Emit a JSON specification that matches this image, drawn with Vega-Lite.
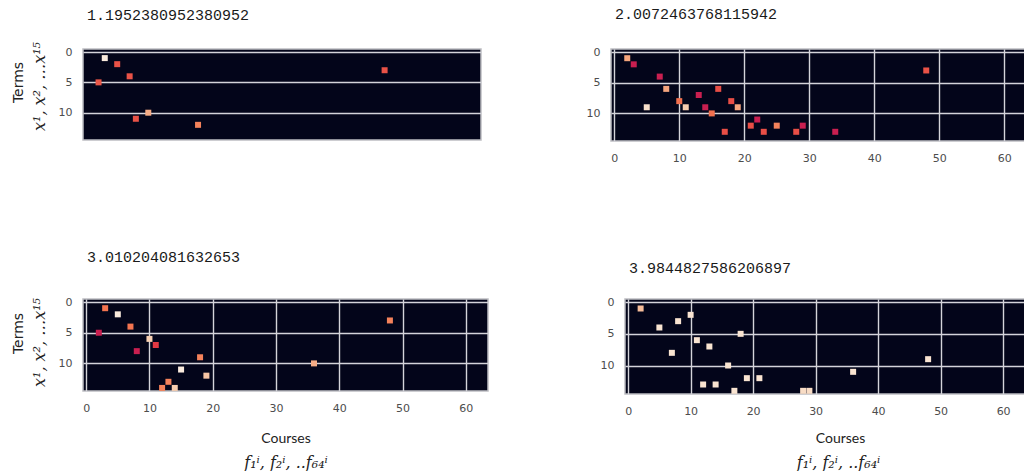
{
  "$schema": "https://vega.github.io/schema/vega-lite/v6.json",
  "padding": {"left": 10, "top": 6, "right": 0, "bottom": 0},
  "background": "white",
  "datasets": {
    "p1": [
      {"course": 3, "term": 1, "v": 1.0}, {"course": 5, "term": 2, "v": 0.63}, {"course": 7, "term": 4, "v": 0.63},
      {"course": 2, "term": 5, "v": 0.64}, {"course": 48, "term": 3, "v": 0.63}, {"course": 10, "term": 10, "v": 0.84},
      {"course": 8, "term": 11, "v": 0.63}, {"course": 18, "term": 12, "v": 0.74}
    ],
    "p2": [
      {"course": 2, "term": 1, "v": 0.82}, {"course": 3, "term": 2, "v": 0.5}, {"course": 7, "term": 4, "v": 0.5},
      {"course": 48, "term": 3, "v": 0.63}, {"course": 8, "term": 6, "v": 0.82}, {"course": 16, "term": 6, "v": 0.62},
      {"course": 13, "term": 7, "v": 0.5}, {"course": 10, "term": 8, "v": 0.7}, {"course": 18, "term": 8, "v": 0.62},
      {"course": 5, "term": 9, "v": 0.97}, {"course": 11, "term": 9, "v": 0.92}, {"course": 14, "term": 9, "v": 0.5},
      {"course": 19, "term": 9, "v": 0.82}, {"course": 15, "term": 10, "v": 0.7}, {"course": 22, "term": 11, "v": 0.5},
      {"course": 21, "term": 12, "v": 0.62}, {"course": 25, "term": 12, "v": 0.74}, {"course": 29, "term": 12, "v": 0.5},
      {"course": 17, "term": 13, "v": 0.62}, {"course": 23, "term": 13, "v": 0.62}, {"course": 28, "term": 13, "v": 0.62},
      {"course": 34, "term": 13, "v": 0.5}
    ],
    "p3": [
      {"course": 3, "term": 1, "v": 0.71}, {"course": 5, "term": 2, "v": 1.0}, {"course": 7, "term": 4, "v": 0.71},
      {"course": 2, "term": 5, "v": 0.5}, {"course": 48, "term": 3, "v": 0.74}, {"course": 10, "term": 6, "v": 0.93},
      {"course": 11, "term": 7, "v": 0.58}, {"course": 8, "term": 8, "v": 0.5}, {"course": 18, "term": 9, "v": 0.74},
      {"course": 36, "term": 10, "v": 0.84}, {"course": 15, "term": 11, "v": 1.0}, {"course": 19, "term": 12, "v": 0.9},
      {"course": 13, "term": 13, "v": 0.74}, {"course": 12, "term": 14, "v": 0.74}, {"course": 14, "term": 14, "v": 0.92}
    ],
    "p4": [
      {"course": 2, "term": 1, "v": 0.88}, {"course": 10, "term": 2, "v": 0.98}, {"course": 8, "term": 3, "v": 0.98},
      {"course": 5, "term": 4, "v": 0.98}, {"course": 18, "term": 5, "v": 0.98}, {"course": 11, "term": 6, "v": 0.98},
      {"course": 13, "term": 7, "v": 0.98}, {"course": 7, "term": 8, "v": 0.98}, {"course": 48, "term": 9, "v": 0.98},
      {"course": 16, "term": 10, "v": 0.98}, {"course": 36, "term": 11, "v": 0.98}, {"course": 19, "term": 12, "v": 0.98},
      {"course": 21, "term": 12, "v": 0.98}, {"course": 12, "term": 13, "v": 0.98}, {"course": 14, "term": 13, "v": 0.98},
      {"course": 17, "term": 14, "v": 0.98}, {"course": 28, "term": 14, "v": 0.96}, {"course": 29, "term": 14, "v": 0.96}
    ]
  },
  "vconcat": [
    {
      "hconcat": [
        {
          "width": 398, "height": 91,
          "title": {"text": "1.1952380952380952", "offset": 18},
          "data": {"name": "p1"},
          "layer": [
            {
              "mark": {"type": "square", "size": 36, "opacity": 1, "strokeWidth": 0},
              "encoding": {
                "x": {"field": "course", "type": "quantitative", "scale": {"domain": [-0.5, 63.5], "nice": false, "zero": false},
                      "axis": {"values": [0, 10, 20, 30, 40, 50, 60], "title": null, "format": "d"}},
                "y": {"field": "term", "type": "quantitative", "scale": {"domain": [-0.5, 14.5], "reverse": true, "nice": false, "zero": false},
                      "axis": {"values": [0, 5, 10], "format": "d", "title": "x¹, x², …x¹⁵", "titleFont": "DejaVu Serif", "titleFontStyle": "italic", "titleFontSize": 16, "titlePadding": 11, "titleY": 37, "titleAlign": "center"}},
                "color": {"field": "v", "type": "quantitative", "scale": {"domain": [0, 0.143, 0.286, 0.429, 0.571, 0.714, 0.857, 1], "range": ["#03051A", "#35193E", "#701F57", "#AD1759", "#E13342", "#F37651", "#F6B48F", "#FAEBDD"]}, "legend": null}
              }
            },
            {
              "mark": {"type": "point", "opacity": 0},
              "encoding": {
                "x": {"field": "course", "type": "quantitative", "scale": {"domain": [-0.5, 63.5], "nice": false, "zero": false}, "axis": null},
                "y": {"field": "term", "type": "quantitative", "scale": {"domain": [-0.5, 14.5], "reverse": true, "nice": false, "zero": false},
                      "axis": {"orient": "left", "title": "Terms", "labels": false, "grid": false, "offset": 58, "titlePadding": 0, "titleFont": "DejaVu Sans", "titleFontSize": 14, "titleY": 33, "titleAlign": "center"}}
              }
            }
          ],
          "resolve": {"scale": {"y": "independent"}}
        },
        {
          "width": 416, "height": 92,
          "title": {"text": "2.0072463768115942", "offset": 24},
          "data": {"name": "p2"},
          "mark": {"type": "square", "size": 36, "opacity": 1, "strokeWidth": 0},
          "encoding": {
            "x": {"field": "course", "type": "quantitative", "scale": {"domain": [-0.5, 63.5], "nice": false, "zero": false},
                  "axis": {"values": [0, 10, 20, 30, 40, 50, 60], "title": null, "format": "d"}},
            "y": {"field": "term", "type": "quantitative", "scale": {"domain": [-0.5, 14.5], "reverse": true, "nice": false, "zero": false},
                  "axis": {"values": [0, 5, 10], "format": "d", "title": null}},
            "color": {"field": "v", "type": "quantitative", "scale": {"domain": [0, 0.143, 0.286, 0.429, 0.571, 0.714, 0.857, 1], "range": ["#03051A", "#35193E", "#701F57", "#AD1759", "#E13342", "#F37651", "#F6B48F", "#FAEBDD"]}, "legend": null}
          }
        }
      ],
      "spacing": 103
    },
    {
      "hconcat": [
        {
          "width": 405, "height": 92,
          "title": {"text": "3.010204081632653", "offset": 31},
          "data": {"name": "p3"},
          "layer": [
            {
              "mark": {"type": "square", "size": 36, "opacity": 1, "strokeWidth": 0},
              "encoding": {
                "x": {"field": "course", "type": "quantitative", "scale": {"domain": [-0.5, 63.5], "nice": false, "zero": false},
                      "axis": {"values": [0, 10, 20, 30, 40, 50, 60], "format": "d", "title": "Courses", "titleFont": "Lato", "titleFontSize": 14, "titlePadding": 18}},
                "y": {"field": "term", "type": "quantitative", "scale": {"domain": [-0.5, 14.5], "reverse": true, "nice": false, "zero": false},
                      "axis": {"values": [0, 5, 10], "format": "d", "title": "x¹, x², …x¹⁵", "titleFont": "DejaVu Serif", "titleFontStyle": "italic", "titleFontSize": 16, "titlePadding": 11, "titleY": 43, "titleAlign": "center"}},
                "color": {"field": "v", "type": "quantitative", "scale": {"domain": [0, 0.143, 0.286, 0.429, 0.571, 0.714, 0.857, 1], "range": ["#03051A", "#35193E", "#701F57", "#AD1759", "#E13342", "#F37651", "#F6B48F", "#FAEBDD"]}, "legend": null}
              }
            },
            {
              "mark": {"type": "point", "opacity": 0},
              "encoding": {
                "x": {"field": "course", "type": "quantitative", "scale": {"domain": [-0.5, 63.5], "nice": false, "zero": false},
                      "axis": {"orient": "bottom", "title": "f₁ⁱ, f₂ⁱ, ..f₆₄ⁱ", "labels": false, "grid": false, "offset": 63, "titlePadding": 0, "titleFont": "DejaVu Serif", "titleFontStyle": "italic", "titleFontSize": 16}},
                "y": {"field": "term", "type": "quantitative", "scale": {"domain": [-0.5, 14.5], "reverse": true, "nice": false, "zero": false},
                      "axis": {"orient": "left", "title": "Terms", "labels": false, "grid": false, "offset": 58, "titlePadding": 0, "titleFont": "DejaVu Sans", "titleFontSize": 14, "titleY": 34, "titleAlign": "center"}}
              }
            }
          ],
          "resolve": {"scale": {"x": "independent", "y": "independent"}}
        },
        {
          "width": 400, "height": 95,
          "title": {"text": "3.9844827586206897", "offset": 20},
          "data": {"name": "p4"},
          "layer": [
            {
              "mark": {"type": "square", "size": 36, "opacity": 1, "strokeWidth": 0},
              "encoding": {
                "x": {"field": "course", "type": "quantitative", "scale": {"domain": [-0.5, 63.5], "nice": false, "zero": false},
                      "axis": {"values": [0, 10, 20, 30, 40, 50, 60], "format": "d", "title": "Courses", "titleFont": "Lato", "titleFontSize": 14, "titlePadding": 15, "titleX": 215, "titleAlign": "center"}},
                "y": {"field": "term", "type": "quantitative", "scale": {"domain": [-0.5, 14.5], "reverse": true, "nice": false, "zero": false},
                      "axis": {"values": [0, 5, 10], "format": "d", "title": null}},
                "color": {"field": "v", "type": "quantitative", "scale": {"domain": [0, 0.143, 0.286, 0.429, 0.571, 0.714, 0.857, 1], "range": ["#03051A", "#35193E", "#701F57", "#AD1759", "#E13342", "#F37651", "#F6B48F", "#FAEBDD"]}, "legend": null}
              }
            },
            {
              "mark": {"type": "point", "opacity": 0},
              "encoding": {
                "x": {"field": "course", "type": "quantitative", "scale": {"domain": [-0.5, 63.5], "nice": false, "zero": false},
                      "axis": {"orient": "bottom", "title": "f₁ⁱ, f₂ⁱ, ..f₆₄ⁱ", "labels": false, "grid": false, "offset": 60, "titlePadding": 0, "titleFont": "DejaVu Serif", "titleFontStyle": "italic", "titleFontSize": 16, "titleX": 213, "titleAlign": "center"}}
              }
            }
          ],
          "resolve": {"scale": {"x": "independent"}}
        }
      ],
      "spacing": 110
    }
  ],
  "spacing": 85,
  "config": {
    "view": {"fill": "#03051A", "stroke": "#BDBDC2", "strokeWidth": 1.5},
    "axis": {
      "labelFont": "DejaVu Sans", "labelFontSize": 11, "labelColor": "#4d4d4d", "labelPadding": 11,
      "ticks": false, "domain": false,
      "gridColor": "#D4D4DA", "gridWidth": 1.4, "gridOpacity": 1,
      "titleFontWeight": "normal", "titleColor": "#222222"
    },
    "title": {"font": "Liberation Mono", "fontSize": 15, "fontWeight": "normal", "color": "#1a1a1a", "anchor": "start", "frame": "group", "dx": 4}
  }
}
